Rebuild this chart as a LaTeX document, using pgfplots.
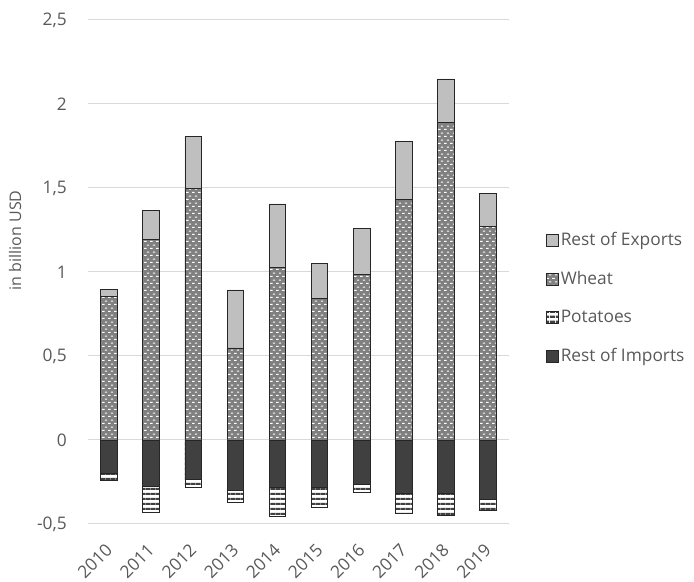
\documentclass[border=0pt]{standalone}
\usepackage{fontspec}
\setmainfont{Open Sans}
\usepackage{pgfplots}
\usepackage{pgfplotstable}
\pgfplotsset{compat=1.18}
\usetikzlibrary{patterns.meta}

\definecolor{txt}{HTML}{595959}
\definecolor{gridc}{HTML}{D9D9D9}
\definecolor{lightbar}{HTML}{BFBFBF}
\definecolor{darkbar}{HTML}{404040}
\definecolor{wheatbg}{HTML}{808080}

% white dashes on grey (wheat)
\pgfdeclarepattern{
  name=dashbricks, type=uncolored,
  bottom left={\pgfpoint{0pt}{0pt}},
  top right={\pgfpoint{4.5pt}{5.4pt}},
  tile size={\pgfpoint{4.5pt}{5.4pt}},
  code={
    \pgfpathrectangle{\pgfpoint{0.2pt}{0.9pt}}{\pgfpoint{2.1pt}{0.9pt}}
    \pgfpathrectangle{\pgfpoint{2.45pt}{3.6pt}}{\pgfpoint{2.1pt}{0.9pt}}
    \pgfusepath{fill}
  }}
% horizontal stripes (potatoes)
\pgfdeclarepattern{
  name=hstripes, type=uncolored,
  bottom left={\pgfpoint{0pt}{0pt}},
  top right={\pgfpoint{4pt}{3.6pt}},
  tile size={\pgfpoint{4pt}{3.6pt}},
  code={
    \pgfpathrectangle{\pgfpoint{0pt}{0pt}}{\pgfpoint{4pt}{1.7pt}}
    \pgfusepath{fill}
  }}

% totals are the bar ends; wheat / imports the inner segment ends
\pgfplotstableread{
x  exptot  wheat  imptot  imports
0  0.897   0.857  -0.238  -0.198
1  1.365   1.194  -0.431  -0.278
2  1.805   1.498  -0.280  -0.234
3  0.893   0.548  -0.373  -0.302
4  1.405   1.028  -0.456  -0.284
5  1.052   0.841  -0.403  -0.282
6  1.258   0.986  -0.312  -0.264
7  1.778   1.433  -0.437  -0.317
8  2.149   1.889  -0.446  -0.317
9  1.468   1.272  -0.417  -0.351
}\trade

\begin{document}
\begin{tikzpicture}
\useasboundingbox (-66pt,-43.5pt) rectangle (454.5pt,393pt);
\begin{axis}[
  scale only axis,
  width=315.75pt, height=378pt,
  ybar, bar width=12.5pt, bar shift=0pt,
  xmin=-0.5, xmax=9.5,
  ymin=-0.5, ymax=2.5,
  xtick={0,...,9},
  xticklabels={2010,2011,2012,2013,2014,2015,2016,2017,2018,2019},
  ytick={-0.5,0,0.5,1,1.5,2,2.5},
  yticklabels={{-0,5},{0},{0,5},{1},{1,5},{2},{2,5}},
  ymajorgrids, grid style={draw=gridc, line width=0.75pt},
  axis line style={draw=none},
  major tick length=0pt,
  tick label style={font=\fontsize{13}{15}\selectfont, text=txt},
  yticklabel style={anchor=east, inner sep=0pt, xshift=-15.75pt},
  xticklabel style={xshift=-3.5pt, yshift=-13.5pt, rotate=45, anchor=north east, inner sep=0pt},
  ylabel={in billion USD},
  ylabel style={font=\fontsize{12}{14}\selectfont, text=txt, at={(axis description cs:-0.173,0.563)}, anchor=center},
  every axis plot/.append style={draw=black!85, line width=0.6pt},
  legend cell align=left,
  legend style={at={(axis description cs:1.078,0.448)}, anchor=west, draw=none, fill=none,
    font=\fontsize{13}{15}\selectfont, text=txt, row sep=14.8pt,
    nodes={inner sep=1.5pt}},
  legend image code/.code={\draw[#1, line width=0.5pt] (0pt,-4.5pt) rectangle (9pt,4.5pt);},
]
\addplot[fill=lightbar] table[x=x, y=exptot] {\trade};
\addlegendentry{Rest of Exports}
\addplot[fill=wheatbg, postaction={pattern=dashbricks, pattern color=white}] table[x=x, y=wheat] {\trade};
\addlegendentry{Wheat}
\addplot[fill=white, postaction={pattern=hstripes, pattern color=darkbar}] table[x=x, y=imptot] {\trade};
\addlegendentry{Potatoes}
\addplot[fill=darkbar] table[x=x, y=imports] {\trade};
\addlegendentry{Rest of Imports}
\end{axis}
\end{tikzpicture}
\end{document}
